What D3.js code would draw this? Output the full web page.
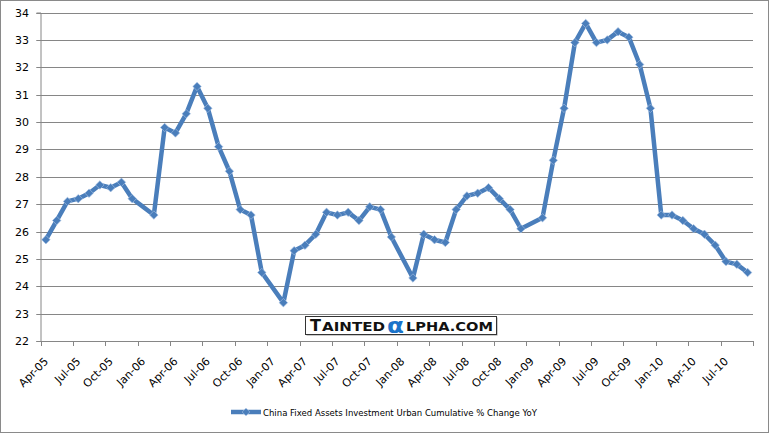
<!DOCTYPE html>
<html><head><meta charset="utf-8">
<script src="https://cdn.jsdelivr.net/npm/d3@7"></script>
<style>
html,body{margin:0;padding:0;background:#fff;}
svg{display:block;}
</style></head>
<body>
<svg id="chart" width="769" height="433"></svg>
<script>
const months = [
 "Apr-05","May-05","Jun-05","Jul-05","Aug-05","Sep-05","Oct-05","Nov-05","Dec-05",
 "Jan-06","Feb-06","Mar-06","Apr-06","May-06","Jun-06","Jul-06","Aug-06","Sep-06","Oct-06","Nov-06","Dec-06",
 "Jan-07","Feb-07","Mar-07","Apr-07","May-07","Jun-07","Jul-07","Aug-07","Sep-07","Oct-07","Nov-07","Dec-07",
 "Jan-08","Feb-08","Mar-08","Apr-08","May-08","Jun-08","Jul-08","Aug-08","Sep-08","Oct-08","Nov-08","Dec-08",
 "Jan-09","Feb-09","Mar-09","Apr-09","May-09","Jun-09","Jul-09","Aug-09","Sep-09","Oct-09","Nov-09","Dec-09",
 "Jan-10","Feb-10","Mar-10","Apr-10","May-10","Jun-10","Jul-10","Aug-10","Sep-10"
];
const values = [
 25.7,26.4,27.1,27.2,27.4,27.7,27.6,27.8,27.2,
 null,26.6,29.8,29.6,30.3,31.3,30.5,29.1,28.2,26.8,26.6,24.5,
 null,23.4,25.3,25.5,25.9,26.7,26.6,26.7,26.4,26.9,26.8,25.8,
 null,24.3,25.9,25.7,25.6,26.8,27.3,27.4,27.6,27.2,26.8,26.1,
 null,26.5,28.6,30.5,32.9,33.6,32.9,33.0,33.3,33.1,32.1,30.5,
 26.6,26.6,26.4,26.1,25.9,25.5,24.9,24.8,24.5
];
const yTicks = [22,23,24,25,26,27,28,29,30,31,32,33,34];
const seriesName = "China Fixed Assets Investment Urban Cumulative % Change YoY";
const watermarkParts = ["T","AINTED","\u03B1","LPHA.COM"];

const svg = d3.select("#chart");
const W = 769, H = 433;
const mLeft = 40.5, mRight = 753, mTop = 12.5, mBottom = 341;
const blue = "#4A7EBB", grid = "#868686";

svg.append("rect").attr("x",0.5).attr("y",0.5).attr("width",W-1).attr("height",H-1)
  .attr("fill","#fff").attr("stroke","#8a8a8a");

const x = d3.scaleBand().domain(months).range([mLeft,mRight]).paddingInner(0).paddingOuter(0);
const y = d3.scaleLinear().domain([22,34]).range([mBottom,mTop]);
const cx = m => x(m) + x.bandwidth()/2;

// gridlines
svg.append("g").selectAll("line").data(yTicks).join("line")
  .attr("x1",mLeft-4).attr("x2",mRight).attr("y1",d=>Math.round(y(d))+0.5).attr("y2",d=>Math.round(y(d))+0.5)
  .attr("stroke",grid).attr("stroke-width",1);
// y axis
const yAxis = d3.axisLeft(y).tickValues(yTicks).tickSize(4).tickFormat(d3.format("d"));
const gy = svg.append("g").attr("transform",`translate(${mLeft},0)`).call(yAxis);
gy.select(".domain").attr("stroke",grid);
gy.selectAll(".tick line").attr("stroke",grid);
gy.selectAll(".tick").attr("transform",d=>`translate(0,${Math.round(y(d))+0.5})`);
gy.selectAll(".tick text").attr("x",-11.5).attr("font-family","DejaVu Sans").attr("font-size",11).attr("fill","#000");

// x axis
const tickMonths = months.filter((m,i)=>i%3===0);
const gx = svg.append("g");
gx.append("line").attr("x1",mLeft).attr("x2",mRight+0.5).attr("y1",mBottom+0.5).attr("y2",mBottom+0.5).attr("stroke",grid);
const tickX = tickMonths.map(m=>x(m)).concat([mRight]);
gx.selectAll("line.t").data(tickX).join("line").attr("class","t")
  .attr("x1",d=>Math.round(d)+0.5).attr("x2",d=>Math.round(d)+0.5)
  .attr("y1",mBottom).attr("y2",mBottom+5).attr("stroke",grid);
gx.selectAll("text").data(tickMonths).join("text")
  .attr("transform",d=>`translate(${cx(d)+3},${mBottom+21}) rotate(-45)`)
  .attr("text-anchor","end").attr("font-family","DejaVu Sans").attr("font-size",11).attr("fill","#000")
  .text(d=>d);

// series
const pts = months.map((m,i)=>({m,v:values[i]})).filter(d=>d.v!==null);
svg.append("path").datum(pts)
  .attr("d",d3.line().x(d=>cx(d.m)).y(d=>y(d.v)))
  .attr("fill","none").attr("stroke",blue).attr("stroke-width",4.5).attr("stroke-linejoin","round");
svg.append("g").selectAll("path").data(pts).join("path")
  .attr("transform",d=>`translate(${cx(d.m)},${y(d.v)}) rotate(45)`)
  .attr("d",d3.symbol().type(d3.symbolSquare).size(36))
  .attr("fill",blue).attr("stroke","#a7c0e2").attr("stroke-width",0.6);

// watermark
const wm = svg.append("g").attr("font-family","DejaVu Sans").attr("font-weight","bold");
wm.append("rect").attr("x",306.5).attr("y",317.5).attr("width",191).attr("height",18).attr("fill","#999");
wm.append("rect").attr("x",305.5).attr("y",316.5).attr("width",191).attr("height",18).attr("fill","#fff").attr("stroke","#333");
const wmSpec = [
  {x:310, w:11, fs:16, fill:"#111", dy:0},
  {x:322, w:63, fs:12.5, fill:"#111", dy:0},
  {x:387, w:17, fs:22, fill:"#1a73c9", dy:1.5},
  {x:406, w:87, fs:12.5, fill:"#111", dy:0}
];
wm.selectAll("text").data(watermarkParts).join("text")
  .attr("x",(d,i)=>wmSpec[i].x).attr("y",(d,i)=>331+wmSpec[i].dy)
  .attr("font-size",(d,i)=>wmSpec[i].fs).attr("fill",(d,i)=>wmSpec[i].fill)
  .attr("textLength",(d,i)=>wmSpec[i].w).attr("lengthAdjust","spacingAndGlyphs")
  .text(d=>d);

// legend
const lg = svg.append("g");
lg.append("line").attr("x1",231).attr("x2",261).attr("y1",412).attr("y2",412).attr("stroke",blue).attr("stroke-width",4.5);
lg.append("path").attr("transform","translate(246,412) rotate(45)").attr("d",d3.symbol().type(d3.symbolSquare).size(30))
  .attr("fill",blue).attr("stroke","#a7c0e2").attr("stroke-width",0.6);
lg.append("text").attr("x",263).attr("y",415.5).attr("font-family","DejaVu Sans").attr("font-size",9)
  .attr("textLength",274).attr("lengthAdjust","spacingAndGlyphs").attr("fill","#000").text(seriesName);
</script>
</body></html>
